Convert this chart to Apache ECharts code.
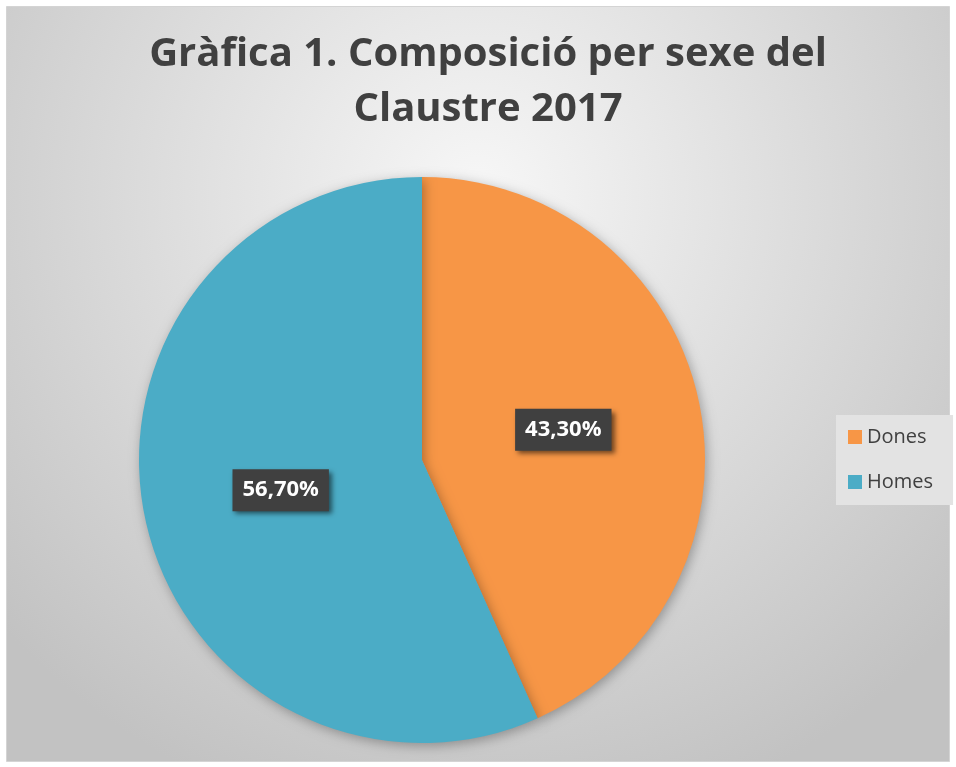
<!DOCTYPE html>
<html><head><meta charset="utf-8">
<script src="https://cdn.jsdelivr.net/npm/echarts@6/dist/echarts.min.js"></script>
<style>html,body{margin:0;padding:0;background:#fff}#c{width:956px;height:767px}</style>
</head><body><div id="c"></div>
<script>
const titleText = 'Gràfica 1. Composició per sexe del\nClaustre 2017';
const categories = ['Dones', 'Homes'];
const values = [43.3, 56.7];
const colors = ['#F79646', '#4BACC6'];

const chart = echarts.init(document.getElementById('c'));
chart.setOption({
  backgroundColor: '#ffffff',
  animation: false,
  graphic: [{
    type: 'rect', z: -10, silent: true,
    shape: { x: 6.5, y: 6.5, width: 943, height: 755 },
    style: {
      fill: { type: 'radial', x: 0.5, y: 0.25, r: 0.85,
        colorStops: [{ offset: 0, color: '#f7f7f7' }, { offset: 1, color: '#c2c2c2' }] },
      stroke: '#d4d4d4', lineWidth: 1
    }
  }],
  title: {
    text: titleText, left: 483, top: 22,
    textAlign: 'center',
    textStyle: { fontFamily: 'Open Sans', fontWeight: 'bold', fontSize: 40, lineHeight: 55, color: '#404040' }
  },
  legend: {
    orient: 'vertical', left: 836, top: 415,
    data: categories,
    backgroundColor: '#e3e3e3',
    padding: [12, 20, 13, 12],
    itemWidth: 14, itemHeight: 14, itemGap: 25,
    icon: 'rect',
    textStyle: { fontFamily: 'Open Sans', fontSize: 20, color: '#404040', lineHeight: 20 }
  },
  series: [{
    type: 'pie',
    center: [422, 460], radius: 283,
    startAngle: 90, clockwise: true,
    data: categories.map((c, i) => ({ name: c, value: values[i], itemStyle: { color: colors[i] } })),
    itemStyle: { shadowBlur: 12, shadowColor: 'rgba(0,0,0,0.3)', shadowOffsetX: 2, shadowOffsetY: 3 },
    label: {
      position: 'inside',
      formatter: p => p.value.toFixed(2).replace('.', ',') + '%',
      fontFamily: 'Open Sans', fontWeight: 'bold', fontSize: 22, color: '#ffffff',
      backgroundColor: '#404040', padding: [10, 10, 10, 10], lineHeight: 22,
      shadowBlur: 5, shadowColor: 'rgba(0,0,0,0.55)', shadowOffsetX: 3, shadowOffsetY: 3
    },
    labelLine: { show: false },
    emphasis: { disabled: true }
  }]
});
</script></body></html>
